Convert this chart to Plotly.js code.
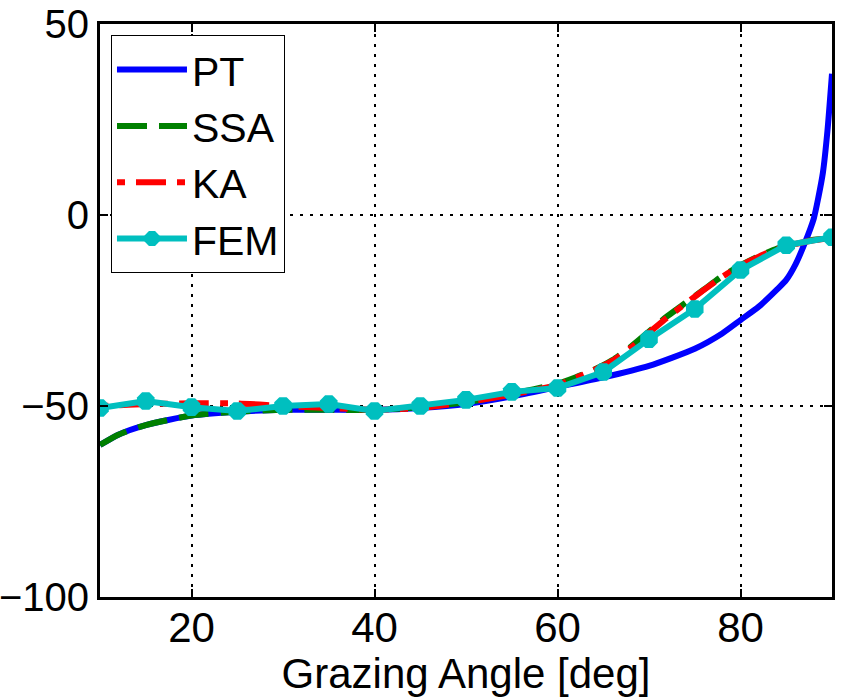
<!DOCTYPE html>
<html>
<head>
<meta charset="utf-8">
<script src="https://cdn.plot.ly/plotly-3.0.1.min.js"></script>
<style>html,body{margin:0;padding:0;background:#fff;}#chart{width:843px;height:697px;}</style>
</head>
<body>
<div id="chart"></div>
<script>
// Grazing angle (deg) and scattering strength (dB)
const ptAngle = [10, 12, 15, 20, 25, 30, 35, 40, 45, 50, 55, 60, 65, 70, 75, 78, 80, 82, 84, 85, 86, 87, 88, 88.5, 89, 89.5, 90];
const ptValue = [-60.2, -57.5, -55, -52.5, -51.5, -51, -51, -51, -50.5, -49.5, -47.5, -45, -42.5, -39.5, -35, -31, -27.5, -24, -19.5, -17, -13, -7.5, -1, 4.5, 11, 22, 37];

const ssaAngle = [10, 12, 15, 20, 25, 30, 35, 40, 45, 50, 55, 60, 62, 64, 66, 68, 70, 72, 74, 76, 78, 80, 82, 84, 86, 88, 90];
const ssaValue = [-60.2, -57.5, -55, -52.5, -51.5, -51, -51, -51, -50.3, -49, -46.8, -44.2, -42.5, -40.5, -38, -34.5, -30.5, -26.5, -23, -19.5, -16, -13.2, -10.8, -8.8, -7.5, -6.5, -6];

const kaAngle = [10, 15, 20, 25, 30, 35, 40, 45, 50, 55, 60, 62, 64, 66, 68, 70, 72, 74, 76, 78, 80, 82, 84, 86, 88, 90];
const kaValue = [-50, -49.5, -49.3, -49.3, -50, -50.5, -51, -50.5, -49, -47, -44.5, -42.6, -40.6, -38.2, -34.8, -30.8, -26.8, -23.2, -19.6, -16.2, -13.3, -10.9, -8.9, -7.6, -6.6, -6];

const femAngle = [10, 15, 20, 25, 30, 35, 40, 45, 50, 55, 60, 65, 70, 75, 80, 85, 90];
const femValue = [-50.5, -48.7, -50.3, -51.3, -50, -49.5, -51.3, -50, -48.4, -46.3, -45.3, -41.1, -32.5, -24.6, -14.4, -7.9, -5.8];

const xTicks = [20, 40, 60, 80];
const yTicks = [-100, -50, 0, 50];

const FONT = 'Liberation Sans, Arial, Helvetica, sans-serif';

const traces = [
  {x: ptAngle, y: ptValue, name: 'PT', mode: 'lines', line: {color: '#0000FF', width: 6, shape: 'spline', smoothing: 0.6}},
  {x: ssaAngle, y: ssaValue, name: 'SSA', mode: 'lines', line: {color: '#008000', width: 6, dash: '30px,12px', shape: 'spline', smoothing: 0.6}},
  {x: kaAngle, y: kaValue, name: 'KA', mode: 'lines', line: {color: '#FF0000', width: 6, dash: '8px,11px,30px,11px', shape: 'spline', smoothing: 0.6}},
  {x: femAngle, y: femValue, name: 'FEM', mode: 'lines+markers', line: {color: '#00BFBF', width: 6}, marker: {color: '#00BFBF', size: 19, symbol: 'octagon'}}
];

const axisCommon = {
  showline: true, linecolor: '#000', linewidth: 3, mirror: 'ticks',
  ticks: 'inside', ticklen: 8, tickwidth: 2, tickcolor: '#000',
  showgrid: true, gridcolor: '#000', gridwidth: 2, griddash: '3px,7px',
  zeroline: false, ticklabeloverflow: 'allow',
  tickfont: {family: FONT, size: 42, color: '#000'}
};

const layout = {
  width: 843, height: 697,
  margin: {l: 100, r: 11, t: 24, b: 100},
  paper_bgcolor: '#fff', plot_bgcolor: '#fff',
  showlegend: true,
  legend: {
    x: 0.015, y: 0.98, xanchor: 'left', yanchor: 'top',
    bgcolor: '#fff', bordercolor: '#000', borderwidth: 1,
    font: {family: FONT, size: 41, color: '#000'},
    itemwidth: 70, tracegroupgap: 0
  },
  xaxis: Object.assign({}, axisCommon, {
    range: [10, 90], tickmode: 'array', tickvals: xTicks,
    ticklabelstandoff: -8,
    title: {text: 'Grazing Angle [deg]', font: {family: FONT, size: 42, color: '#000'}, standoff: 2}
  }),
  yaxis: Object.assign({}, axisCommon, {
    range: [-100, 50], tickmode: 'array', tickvals: yTicks,
    tickfont: {family: FONT, size: 40, color: '#000'}
  })
};

Plotly.newPlot('chart', traces, layout, {displayModeBar: false, staticPlot: true});
</script>
</body>
</html>
